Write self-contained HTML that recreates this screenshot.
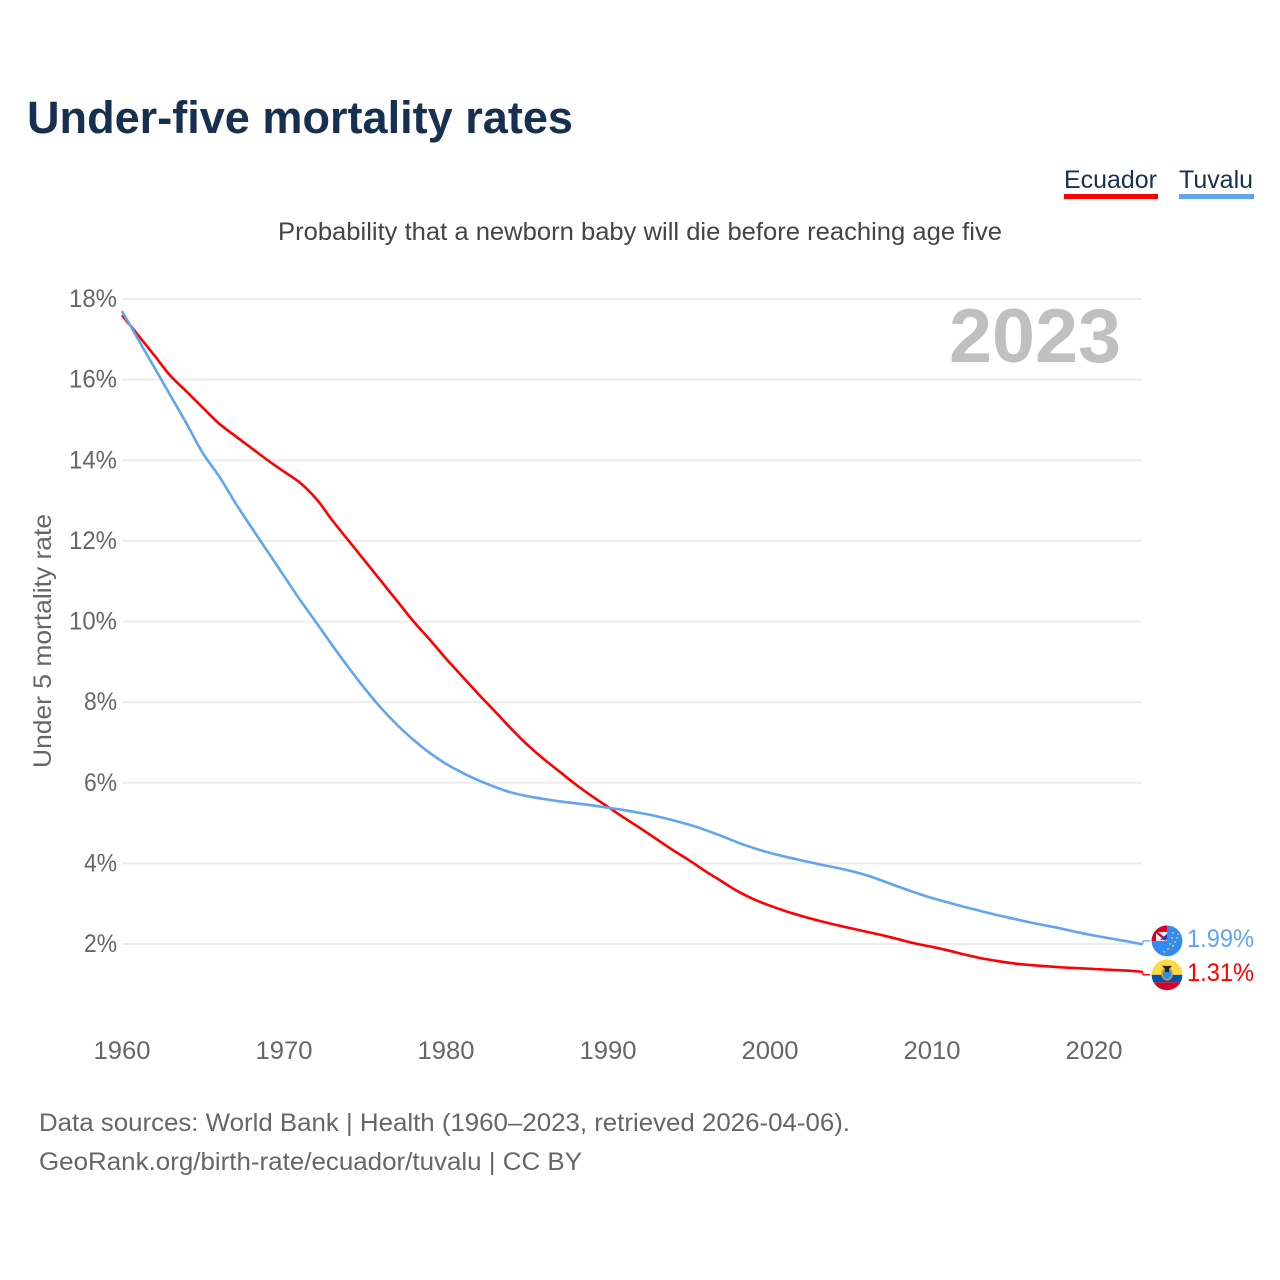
<!DOCTYPE html>
<html lang="en">
<head>
<meta charset="utf-8">
<title>Under-five mortality rates</title>
<style>
html,body{margin:0;padding:0;background:#fff;}
svg{display:block;font-family:"Liberation Sans",sans-serif;}
</style>
</head>
<body>
<svg id="chart" xmlns="http://www.w3.org/2000/svg" width="1280" height="1280" viewBox="0 0 1280 1280">
  <defs>
    <clipPath id="clip-flag-tuvalu"><circle id="clip-tuvalu-circle" cx="1167" cy="940" r="15.4"></circle></clipPath>
    <clipPath id="clip-flag-ecuador"><circle id="clip-ecuador-circle" cx="1167" cy="974" r="15.4"></circle></clipPath>
  </defs>
  <rect width="1280" height="1280" fill="#fff"></rect>
  <text x="27" y="133" font-size="45" font-weight="700" fill="#17304f" textLength="546" lengthAdjust="spacingAndGlyphs">Under-five mortality rates</text>
  <text x="1064" y="188" font-size="25" fill="#17304f" textLength="93" lengthAdjust="spacingAndGlyphs">Ecuador</text>
  <rect x="1064" y="194" width="94" height="5" fill="#ff0000"></rect>
  <text x="1179" y="188" font-size="25" fill="#17304f" textLength="74" lengthAdjust="spacingAndGlyphs">Tuvalu</text>
  <rect x="1179" y="194" width="75" height="5" fill="#60a5ee"></rect>
  <text x="278" y="240" font-size="25" fill="#444" textLength="724" lengthAdjust="spacingAndGlyphs">Probability that a newborn baby will die before reaching age five</text>
  <g id="grid"></g>
  <g id="y-ticks"></g>
  <g id="x-ticks"></g>
  <text transform="translate(51,641) rotate(-90)" text-anchor="middle" font-size="25" fill="#666" textLength="254" lengthAdjust="spacingAndGlyphs">Under 5 mortality rate</text>
  <text x="949" y="362" font-size="76" font-weight="700" fill="#c0c0c0" textLength="172" lengthAdjust="spacingAndGlyphs">2023</text>
  <g id="series"></g>
  <g id="flag-tuvalu"></g>
  <g id="flag-ecuador"></g>
  <text x="39" y="1131" font-size="25" fill="#666" textLength="811" lengthAdjust="spacingAndGlyphs">Data sources: World Bank | Health (1960–2023, retrieved 2026-04-06).</text>
  <text x="39" y="1170" font-size="25" fill="#666" textLength="543" lengthAdjust="spacingAndGlyphs">GeoRank.org/birth-rate/ecuador/tuvalu | CC BY</text>
</svg>
<script>
const startYear = 1960;
const xTickYears = [1960, 1970, 1980, 1990, 2000, 2010, 2020];
const yTickValues = [2, 4, 6, 8, 10, 12, 14, 16, 18];
const ecuadorValues = [17.6, 17.1, 16.6, 16.09, 15.7, 15.3, 14.91, 14.6, 14.3, 14.0, 13.72, 13.44, 13.04, 12.5, 12.0, 11.5, 11.0, 10.5, 10.0, 9.55, 9.08, 8.64, 8.2, 7.78, 7.35, 6.95, 6.6, 6.28, 5.96, 5.67, 5.4, 5.13, 4.87, 4.6, 4.33, 4.08, 3.81, 3.56, 3.31, 3.11, 2.95, 2.81, 2.69, 2.58, 2.48, 2.39, 2.3, 2.21, 2.11, 2.01, 1.93, 1.84, 1.74, 1.65, 1.58, 1.52, 1.48, 1.45, 1.42, 1.4, 1.38, 1.36, 1.34, 1.31];
const tuvaluValues = [17.7, 17.0, 16.3, 15.6, 14.9, 14.17, 13.6, 12.94, 12.33, 11.73, 11.13, 10.53, 9.97, 9.4, 8.85, 8.33, 7.85, 7.43, 7.06, 6.74, 6.47, 6.25, 6.06, 5.9, 5.76, 5.67, 5.6, 5.54, 5.49, 5.44, 5.38, 5.32, 5.25, 5.17, 5.07, 4.96, 4.83, 4.68, 4.52, 4.38, 4.26, 4.16, 4.07, 3.98, 3.9, 3.81, 3.7, 3.56, 3.41, 3.27, 3.14, 3.03, 2.92, 2.82, 2.72, 2.63, 2.54, 2.46, 2.38, 2.29, 2.21, 2.14, 2.07, 1.99];

const NS = 'http://www.w3.org/2000/svg';
const xScale = function (year) { return 122 + (year - 1960) * 16.2; };
const yScale = function (v) { return 944 - (v - 2) * 40.31; };
const make = function (tag, attrs, parent) {
  const el = document.createElementNS(NS, tag);
  Object.keys(attrs).forEach(function (k) { el.setAttribute(k, attrs[k]); });
  parent.appendChild(el);
  return el;
};
/* Monotone cubic path through screen points */
const monotonePath = function (xs, ys) {
  const n = xs.length;
  const slopes = [];
  for (let i = 0; i < n - 1; i++) slopes.push((ys[i + 1] - ys[i]) / (xs[i + 1] - xs[i]));
  const tangents = [slopes[0]];
  for (let i = 1; i < n - 1; i++) {
    tangents.push(slopes[i - 1] * slopes[i] <= 0 ? 0 : 2 * slopes[i - 1] * slopes[i] / (slopes[i - 1] + slopes[i]));
  }
  tangents.push(slopes[n - 2]);
  let d = 'M' + xs[0].toFixed(2) + ' ' + ys[0].toFixed(2);
  for (let i = 0; i < n - 1; i++) {
    const h = (xs[i + 1] - xs[i]) / 3;
    d += 'C' + (xs[i] + h).toFixed(2) + ' ' + (ys[i] + tangents[i] * h).toFixed(2) + ' ' +
      (xs[i + 1] - h).toFixed(2) + ' ' + (ys[i + 1] - tangents[i + 1] * h).toFixed(2) + ' ' +
      xs[i + 1].toFixed(2) + ' ' + ys[i + 1].toFixed(2);
  }
  return d;
};

const gridG = document.getElementById('grid');
const yG = document.getElementById('y-ticks');
yTickValues.forEach(function (v) {
  const line = make('line', { x1: 122, x2: 1142, y1: yScale(v), y2: yScale(v), stroke: '#ececec', 'stroke-width': 2 }, gridG);
  
  
  const label = v + '%';
  const t = make('text', { x: 117, y: yScale(v) + 8, 'text-anchor': 'end', 'font-size': 25, fill: '#666', textLength: label.length === 3 ? 48 : 33, lengthAdjust: 'spacingAndGlyphs' }, yG);
  
  
  t.textContent = label;
});

const xG = document.getElementById('x-ticks');
xTickYears.forEach(function (y) {
  const t = make('text', { x: xScale(y), y: 1059, 'text-anchor': 'middle', 'font-size': 25, fill: '#666', textLength: 57, lengthAdjust: 'spacingAndGlyphs' }, xG);
  
  
  t.textContent = String(y);
});

const seriesG = document.getElementById('series');
const drawSeries = function (values, color, name, labelOffset) {
  const xs = values.map(function (v, i) { return xScale(startYear + i); });
  const ys = values.map(function (v) { return yScale(v); });
  const path = make('path', { d: monotonePath(xs, ys), fill: 'none', stroke: color, 'stroke-width': 2.6, 'stroke-linejoin': 'round' }, seriesG);
  
  
  const last = values[values.length - 1];
  const ex = xs[xs.length - 1];
  const ey = ys[ys.length - 1];
  const ly = ey + labelOffset;
  const conn = make('polyline', { points: [ex + ',' + ey, (ex + 0.5) + ',' + ly, (ex + 7.5) + ',' + ly].join(' '), fill: 'none', stroke: color, 'stroke-width': 1.3 }, seriesG);
  
  
  const t = make('text', { x: 1187, y: ly + 6, 'font-size': 25, fill: color, textLength: 67, lengthAdjust: 'spacingAndGlyphs' }, seriesG);
  
  
  t.textContent = last.toFixed(2) + '%';
  return ly;
};
const ecuadorY = drawSeries(ecuadorValues, '#ff0000', 'ecuador', 3);
const tuvaluY = drawSeries(tuvaluValues, '#60a5ee', 'tuvalu', -3.5);

/* Flags */
const cx = 1167;
document.getElementById('clip-tuvalu-circle').setAttribute('cy', tuvaluY);
document.getElementById('clip-ecuador-circle').setAttribute('cy', ecuadorY);

const tf = document.getElementById('flag-tuvalu');
tf.setAttribute('clip-path', 'url(#clip-flag-tuvalu)');
make('rect', { x: cx - 16, y: tuvaluY - 16, width: 32, height: 32, fill: '#338af3' }, tf);
make('rect', { x: cx - 16, y: tuvaluY - 16, width: 16, height: 16, fill: '#d80027' }, tf);
make('rect', { x: cx - 11, y: tuvaluY - 9, width: 11, height: 9, fill: '#f0f0f0' }, tf);
make('line', { x1: cx - 11, y1: tuvaluY - 9, x2: cx - 1, y2: tuvaluY - 1, stroke: '#d80027', 'stroke-width': 2.2 }, tf);
make('path', { d: 'M' + (cx - 7) + ' ' + (tuvaluY - 1) + 'h7v-6z', fill: '#1a47b8' }, tf);
[[6, -8], [10, -3], [5, -3], [8, 1], [3, 3], [6, 5], [1, 8], [-3, 11], [11, -7]].forEach(function (p) {
  make('circle', { cx: cx + p[0], cy: tuvaluY + p[1], r: 0.9, fill: '#ffda44' }, tf);
});

const ef = document.getElementById('flag-ecuador');
ef.setAttribute('clip-path', 'url(#clip-flag-ecuador)');
make('rect', { x: cx - 16, y: ecuadorY - 16, width: 32, height: 16, fill: '#ffda44' }, ef);
make('rect', { x: cx - 16, y: ecuadorY, width: 32, height: 7.5, fill: '#0052b4' }, ef);
make('rect', { x: cx - 16, y: ecuadorY + 7.5, width: 32, height: 9, fill: '#d80027' }, ef);
make('ellipse', { cx: cx, cy: ecuadorY - 1, rx: 5, ry: 6, fill: '#338af3', stroke: '#d8a800', 'stroke-width': 1.5 }, ef);
make('path', { d: 'M' + (cx - 5) + ' ' + (ecuadorY - 9) + 'h10l-3 3v3h-4v-3z', fill: '#222' }, ef);
</script>
</body>
</html>
